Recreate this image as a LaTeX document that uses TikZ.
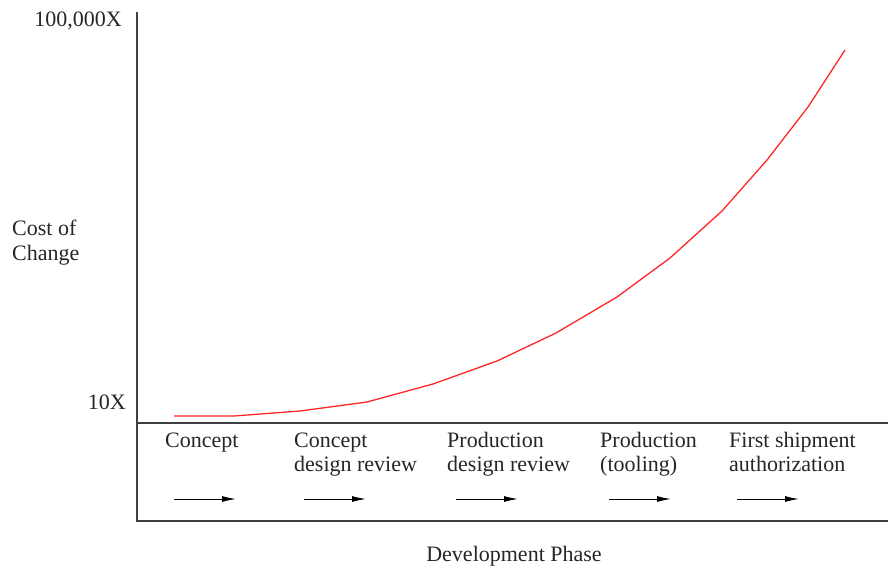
\documentclass[tikz,border=0pt]{standalone}
\usepackage{fontspec}
\setmainfont{Liberation Serif}
\usetikzlibrary{arrows.meta}
\begin{document}
\begin{tikzpicture}[x=1pt,y=-1pt,
  lbl/.style={inner sep=0pt,font=\fontsize{22}{24.5}\selectfont,text=black!85},
  phase/.style={lbl,anchor=base west,align=left},
  axis/.style={line width=1.4pt,draw=black!75},
  flow/.style={line width=1pt,-{Latex[length=14pt,width=6pt]}},
  costcurve/.style={line width=1.3pt,draw=red!85!white,line join=round}]
\useasboundingbox (0,0) rectangle (888,570);
% frame
\coordinate (top) at (137,12);
\coordinate (bl) at (137,521);
\coordinate (br) at (888,521);
\coordinate (ml) at (137,423);
\coordinate (mr) at (888,423);
\draw[axis] (top) -- (bl) -- (br);
\draw[axis] (ml) -- (mr);
% axis labels
\node[lbl,anchor=base east] (ymax) at (122,27) {100,000X};
\node[lbl,anchor=base east] (ymin) at (126,409) {10X};
\node[lbl,anchor=base west,align=left] (ylab) at (12,260) {Cost of\\Change};
\node[lbl,anchor=base] (xlab) at (514,561) {Development Phase};
% phases
\node[phase] (p1) at (165,447) {Concept};
\node[phase] (p2) at (294,471.5) {Concept\\design review};
\node[phase] (p3) at (447,471.5) {Production\\design review};
\node[phase] (p4) at (600,471.5) {Production\\(tooling)};
\node[phase] (p5) at (729,471.5) {First shipment\\authorization};
% arrows
\foreach \i/\a in {1/174,2/304,3/456,4/609,5/737}{
  \coordinate (a\i s) at (\a,499);
  \coordinate (a\i e) at (\a+62,499);
  \draw[flow] (a\i s) -- (a\i e);
}
% curve
\draw[costcurve] (174,416) -- (234,416) -- (300,411) -- (367,402) -- (433,384)
  -- (497,361) -- (556,333) -- (617,297) -- (670,258) -- (722,211)
  -- (767,160) -- (808,107) -- (845,50);
\end{tikzpicture}
\end{document}
